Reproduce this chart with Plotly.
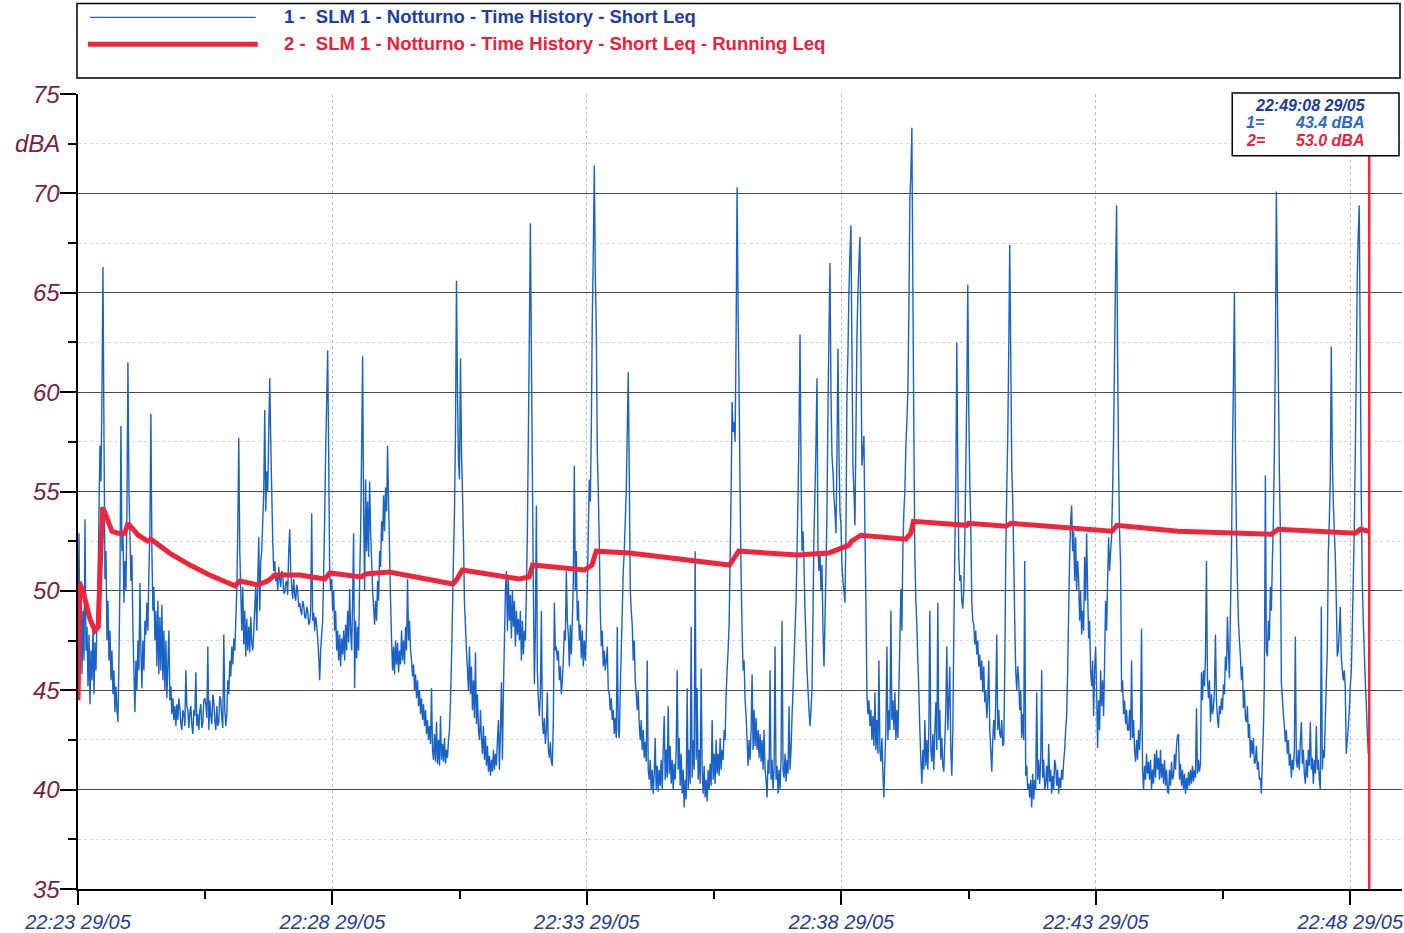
import pandas as pd
import plotly.graph_objects as go

# --- data -----------------------------------------------------------------
# Short Leq time history (dBA), one reading per logging interval from 22:23:00
start = pd.Timestamp("2000-05-29 22:23:00")
step_s = 1.1774
short_leq = [
    47.5, 52.9, 46.0, 50.5, 45.8, 49.0, 46.5, 53.6, 47.0, 48.2,
    45.2, 47.8, 44.3, 47.0, 45.5, 48.3, 44.8, 47.4, 46.0, 48.8,
    50.0, 54.0, 57.3, 55.5, 60.0, 66.3, 58.0, 50.6, 52.0, 47.5,
    49.5, 46.5, 48.0, 45.5, 47.0, 44.8, 46.0, 43.9, 45.2, 44.0,
    43.4, 46.5, 50.5, 58.3, 52.0, 53.0, 49.4, 51.5, 50.0, 54.0,
    61.5, 55.0, 52.9, 50.5, 51.8, 48.0, 46.0, 43.9, 46.5, 45.0,
    47.5, 46.0, 50.4, 47.0, 45.1, 47.5, 46.0, 48.5, 47.8, 49.4,
    48.0, 51.0, 53.0, 58.9, 52.0, 49.0, 50.2, 47.5, 49.0, 46.2,
    49.5, 45.8, 48.7, 46.0, 49.3, 45.5, 48.0, 45.0, 47.5, 44.6,
    46.3, 48.0, 44.5, 45.2, 43.8, 44.6, 43.5, 44.2, 43.2, 44.3,
    43.5, 44.6, 44.1, 43.3, 43.0, 44.0, 43.8, 43.2, 46.0, 44.2,
    44.0, 43.1, 43.9, 44.2, 43.2, 42.8, 44.0, 43.7, 45.9, 43.2,
    43.8, 43.0, 44.0, 44.3, 43.1, 43.4, 44.5, 44.6, 44.3, 43.6,
    47.2, 43.0, 44.5, 43.7, 43.3, 44.8, 44.4, 43.5, 43.0, 44.2,
    43.2, 43.4, 44.7, 44.5, 43.6, 43.1, 47.8, 44.0, 43.2, 43.8,
    45.5, 44.8, 46.5, 45.7, 47.2, 46.3, 47.6, 47.0, 48.5, 50.0,
    53.0, 57.7, 52.0, 50.0, 48.0, 50.2, 47.3, 49.0, 46.7, 48.6,
    47.0, 48.2, 46.9, 48.7, 47.4, 47.0, 47.9, 49.2, 50.2, 48.0,
    50.5, 52.7, 49.0, 51.5, 52.0, 53.5, 55.0, 59.1, 54.0, 56.0,
    55.0, 58.0, 60.7, 57.5, 55.0, 52.5, 51.0, 51.5, 50.5, 50.8,
    50.0, 51.2, 50.6, 50.2, 51.0, 50.8, 49.9, 49.9, 50.4, 50.5,
    49.8, 52.0, 53.1, 51.0, 50.2, 49.6, 50.6, 49.8, 49.5, 50.3,
    50.0, 49.2, 49.4, 49.0, 48.8, 49.5, 49.3, 48.7, 48.6, 49.2,
    49.0, 48.3, 48.4, 49.0, 53.9, 48.5, 48.9, 48.0, 48.7, 48.3,
    47.6, 46.8, 45.5, 47.0, 47.8, 48.5, 51.0, 53.5, 57.0, 59.5,
    62.1, 57.0, 51.0, 50.0, 50.6, 49.0, 50.0, 48.0, 49.0, 47.0,
    48.0, 46.5, 47.8, 46.2, 47.6, 46.8, 48.0, 46.5, 48.3, 47.0,
    49.0, 47.4, 50.1, 48.0, 47.0, 49.5, 52.9, 45.1, 48.5, 46.6,
    48.2, 47.0, 50.5, 53.0, 57.0, 61.8, 54.0, 50.0, 55.6, 52.0,
    54.5, 51.7, 55.5, 53.0, 51.5, 50.0, 49.2, 48.3, 49.5, 48.5,
    50.5, 49.5, 52.0, 51.2, 53.5, 52.5, 54.8, 53.0, 55.2, 54.0,
    57.3, 54.5, 52.0, 49.5, 47.5, 46.0, 47.2, 45.8, 47.5, 46.3,
    47.4, 45.9, 47.0, 46.3, 48.0, 46.5, 47.5, 46.3, 48.2, 47.0,
    50.6, 47.5, 48.5, 47.0, 46.5, 45.7, 46.3, 45.0, 45.8, 44.6,
    45.5, 44.2, 45.0, 43.8, 44.6, 43.5, 44.3, 43.2, 44.0, 42.8,
    43.5, 42.5, 43.2, 42.3, 45.1, 42.0, 41.5, 42.8, 41.4, 43.4,
    41.3, 42.5, 41.2, 43.7, 41.5, 42.3, 41.4, 42.6, 41.3, 42.0,
    41.6, 42.5, 43.0, 44.5, 46.5, 49.0, 51.7, 54.0, 58.0, 65.6,
    60.0, 56.5, 55.6, 61.7, 57.0, 55.0, 52.5, 49.4, 48.2, 47.0,
    46.0, 45.0, 47.2, 44.8, 46.2, 44.0, 45.5, 43.6, 46.9, 43.3,
    44.8, 43.0, 42.5, 44.0, 42.6, 41.8, 43.2, 41.5, 42.7, 41.2,
    42.2, 40.9, 41.7, 40.7, 41.5, 40.9, 42.0, 41.0, 41.8, 41.2,
    42.5, 43.5, 41.0, 43.0, 45.4, 41.5, 45.0, 47.5, 50.0, 51.0,
    48.0, 50.6, 48.5, 49.8, 47.6, 50.0, 48.2, 49.5, 47.2, 49.0,
    47.8, 48.6, 47.5, 49.0, 46.5, 48.5, 46.8, 48.0, 47.5, 50.0,
    53.0, 58.0, 63.0, 68.5, 62.0, 55.9, 50.0, 45.3, 48.0, 54.3,
    46.0, 44.5, 43.7, 44.8, 49.0, 43.5, 42.8, 43.6, 42.3, 43.0,
    44.9, 42.0, 41.6, 42.4, 41.4, 41.2, 43.5, 49.4, 47.0, 47.2,
    46.5, 47.0, 45.5, 46.2, 44.8, 45.5, 46.5, 48.0, 47.5, 51.0,
    48.5, 47.8, 46.2, 48.3, 46.8, 48.5, 50.5, 56.3, 50.0, 52.0,
    48.5, 49.5, 47.5, 48.3, 46.6, 48.0, 46.2, 47.5, 46.5, 47.8,
    50.0, 53.0, 55.6, 54.5, 58.0, 63.7, 67.0, 71.4, 66.0, 63.2,
    57.0, 55.0, 52.4, 49.0, 47.2, 48.0, 46.2, 47.0, 46.0, 46.5,
    47.2, 45.0, 44.8, 44.0, 44.6, 43.5, 44.0, 42.8, 43.6, 42.6,
    48.2, 43.0, 42.6, 45.0, 47.0, 49.0, 51.0, 52.0, 53.5, 55.0,
    58.0, 61.0, 56.0, 50.1, 49.0, 48.3, 46.5, 47.5, 45.5, 44.8,
    44.0, 45.0, 43.3, 42.5, 43.5, 42.0, 43.0, 41.6, 42.4, 41.4,
    46.5, 41.0, 40.5, 41.5, 40.0, 41.0, 39.8, 40.8, 42.6, 40.0,
    41.2, 39.9, 41.0, 40.2, 41.5, 40.0, 42.0, 43.7, 40.5, 42.0,
    40.6, 44.2, 40.8, 42.2, 40.3, 41.5, 40.0, 41.3, 40.5, 42.0,
    46.0, 41.0, 42.6, 40.2, 41.8, 39.8, 41.0, 39.1, 40.5, 39.5,
    45.1, 40.0, 42.0, 40.3, 48.2, 40.6, 42.5, 41.0, 52.0, 41.5,
    45.1, 40.5, 42.0, 40.3, 46.1, 41.0, 39.8, 41.2, 39.6, 40.5,
    39.4, 41.0, 40.0, 41.3, 40.2, 43.5, 40.5, 41.8, 40.3, 42.5,
    40.8, 41.8, 40.7, 42.6, 41.0, 42.0, 41.5, 43.0, 42.5, 44.8,
    46.0, 47.0, 48.3, 51.5, 55.0, 59.5, 58.0, 58.5, 57.5, 63.0,
    70.3, 64.0, 60.0, 55.0, 50.8, 48.0, 46.0, 46.5, 44.5, 43.7,
    42.5, 41.2, 42.5, 41.5, 43.0, 45.8, 42.0, 44.0, 42.2, 43.6,
    42.0, 43.0, 41.6, 42.8, 41.4, 42.5, 41.0, 43.0, 41.0, 40.5,
    39.6, 41.5, 40.8, 46.0, 40.5, 41.5, 40.0, 41.0, 47.2, 40.5,
    41.2, 39.8, 41.0, 40.0, 41.5, 48.5, 41.0, 40.6, 41.8, 40.4,
    41.5, 40.8, 44.2, 41.0, 42.0, 43.7, 45.0, 46.5, 48.0, 49.4,
    52.0, 54.7, 58.0, 62.9, 56.0, 52.0, 53.0, 51.3, 49.0, 47.5,
    46.0, 45.0, 44.0, 43.2, 44.0, 45.1, 49.0, 52.9, 55.0, 57.5,
    60.7, 52.0, 51.0, 52.0, 50.0, 51.3, 48.0, 46.2, 48.5, 51.0,
    54.0, 59.1, 63.0, 66.5, 60.0, 56.8, 56.0, 54.7, 54.0, 52.9,
    57.0, 62.2, 57.0, 54.0, 53.3, 51.3, 50.5, 50.0, 49.4, 53.0,
    59.8, 62.0, 65.1, 67.0, 68.4, 62.0, 56.3, 55.0, 53.3, 58.0,
    62.8, 65.0, 66.5, 67.8, 62.0, 56.3, 57.0, 57.8, 53.0, 49.4,
    44.8, 43.8, 44.5, 43.2, 44.0, 42.5, 43.7, 42.2, 44.9, 42.0,
    43.5, 41.8, 46.5, 42.0, 41.4, 42.6, 40.8, 39.6, 41.5, 43.0,
    47.2, 42.5, 44.0, 43.0, 49.0, 43.5, 44.5, 43.0, 44.9, 42.5,
    44.0, 42.6, 45.0, 47.5, 50.1, 48.0, 52.2, 54.0, 55.0, 57.3,
    58.5, 60.0, 64.0, 69.7, 71.0, 73.3, 65.4, 58.0, 51.7, 49.5,
    48.3, 46.5, 44.9, 43.0, 41.5, 40.3, 42.0, 41.0, 43.5, 41.2,
    42.5, 41.0, 43.0, 49.0, 42.0, 41.4, 42.8, 41.0, 43.0, 44.4,
    42.0, 49.4, 42.5, 44.0, 41.5, 42.6, 41.2, 40.9, 42.5, 44.0,
    47.2, 43.0, 44.5, 46.2, 42.0, 40.7, 43.0, 47.8, 52.0, 55.2,
    62.5, 56.0, 51.7, 50.5, 50.8, 49.5, 49.1, 50.0, 52.5, 56.1,
    60.0, 65.4, 59.0, 55.5, 53.3, 49.5, 48.5, 48.3, 47.3, 48.0,
    46.8, 47.5, 46.2, 46.8, 45.5, 46.5, 44.9, 46.2, 44.4, 45.0,
    43.6, 44.5, 46.5, 43.0, 42.0, 40.9, 42.5, 43.5, 42.5, 44.4,
    47.8, 43.0, 44.0, 42.8, 42.6, 43.5, 42.2, 42.3, 46.0, 51.7,
    55.0, 57.7, 62.0, 67.4, 62.0, 56.3, 54.5, 51.7, 48.5, 46.0,
    45.0, 46.2, 45.5, 44.0, 45.0, 42.6, 43.8, 42.5, 51.5, 40.7,
    41.2, 40.0, 40.3, 39.6, 40.5, 39.1, 40.8, 39.5, 40.5, 40.0,
    44.9, 40.5, 41.5, 40.3, 41.4, 46.0, 40.6, 41.5, 40.0, 40.3,
    41.2, 40.0, 42.3, 40.4, 41.0, 39.8, 40.7, 40.0, 41.5, 41.2,
    40.2, 41.0, 39.8, 40.6, 40.1, 41.0, 40.5, 41.4, 42.0, 43.0,
    43.7, 46.0, 49.0, 51.7, 53.5, 54.3, 52.0, 53.0, 50.5, 52.7,
    50.0, 51.5, 50.6, 48.5, 50.0, 47.8, 49.0, 48.0, 51.7, 49.5,
    52.9, 50.0, 47.6, 48.5, 46.0, 45.2, 46.5, 43.7, 46.0, 47.2,
    45.0, 42.1, 44.5, 43.0, 46.0, 44.2, 45.5, 43.7, 46.5, 49.5,
    48.0, 50.5, 52.7, 51.0, 52.0, 52.7, 55.0, 57.7, 62.0, 66.0,
    69.4, 62.0, 56.3, 53.0, 51.3, 44.9, 45.5, 43.8, 44.5, 43.3,
    44.0, 43.0, 43.0, 44.0, 42.5, 46.5, 42.6, 43.5, 42.0, 41.4,
    42.5, 41.5, 43.0, 42.0, 43.3, 48.1, 41.0, 40.0, 41.2, 40.5,
    41.8, 40.8, 41.4, 40.5, 41.5, 40.0, 41.0, 40.3, 41.8, 40.6,
    42.0, 41.0, 41.6, 40.5, 42.0, 40.6, 41.3, 40.3, 41.5, 40.2,
    41.0, 39.9, 39.8, 41.0, 40.2, 41.4, 40.5, 40.7, 41.8, 41.0,
    42.2, 42.7, 42.8, 40.5, 41.3, 40.2, 41.0, 40.0, 40.8, 39.8,
    40.6, 40.0, 40.9, 40.2, 41.0, 40.3, 41.2, 40.4, 41.0, 40.6,
    44.1, 40.8, 41.5, 40.9, 41.3, 45.9, 44.5, 46.0, 45.2, 46.7,
    51.5, 45.5, 44.6, 45.5, 43.4, 44.8, 43.8, 44.1, 45.0, 47.8,
    44.5, 43.6, 43.1, 44.2, 43.8, 44.6, 44.0, 45.3, 44.8, 46.7,
    46.0, 48.7, 47.0, 45.6, 49.0, 51.8, 56.8, 60.5, 65.0, 57.4,
    53.0, 50.5, 48.5, 47.5, 46.7, 45.5, 46.2, 44.1, 45.0, 43.6,
    43.4, 44.2, 42.6, 43.3, 41.6, 42.5, 41.8, 42.6, 41.3, 41.4,
    42.2, 41.0, 41.4, 40.5, 40.6, 39.8, 41.5, 43.0, 45.4, 55.8,
    47.0, 46.7, 48.5, 47.5, 50.2, 49.0, 51.5, 53.5, 57.0, 61.9,
    70.1, 65.0, 60.7, 56.0, 53.0, 45.4, 44.6, 43.8, 43.2, 42.4,
    43.0, 41.8, 42.5, 41.2, 41.8, 40.6, 41.5, 41.0, 42.0, 47.7,
    41.5, 41.1, 42.0, 41.0, 42.5, 43.4, 41.3, 42.0, 40.8, 40.3,
    41.5, 40.6, 42.0, 41.2, 43.4, 41.0, 41.6, 40.3, 41.5, 40.8,
    43.2, 41.0, 41.5, 40.5, 40.0, 49.2, 41.0, 42.0, 41.6, 43.5,
    45.4, 47.0, 51.8, 53.5, 55.6, 62.3, 56.8, 54.5, 53.0, 51.8,
    49.5, 46.7, 47.0, 48.0, 49.2, 46.7, 46.0, 45.5, 46.0, 45.1,
    41.8, 42.5, 43.1, 44.0, 45.2, 45.9, 48.0, 50.5, 53.0, 56.8,
    61.0, 65.8, 68.0, 69.4, 62.0, 55.0, 50.5, 48.5, 47.0, 45.5,
    44.4, 43.0, 41.8, 43.4,
]

# Running Leq (dBA), read at its break points (seconds after start)
running_s = [0, 1, 2, 7, 14, 20, 24, 26, 29, 33,
             40, 47, 55, 59, 71, 82, 86, 108, 132, 155,
             185, 191, 212, 224, 232, 261, 291, 297, 334, 339,
             367, 442, 447, 453, 520, 532, 536, 597, 606, 611,
             650, 768, 776, 779, 848, 868, 885, 897, 909, 912,
             923, 976, 982, 985, 1038, 1048, 1050, 1094, 1100, 1219,
             1225, 1297, 1407, 1415, 1506, 1512, 1522]
running_leq = [44.5, 49.0, 50.4, 49.8, 48.6, 48.0, 48.2, 51.0, 54.2, 53.8,
               53.0, 52.9, 52.9, 53.4, 52.8, 52.5, 52.6, 51.9, 51.3, 50.8,
               50.25, 50.5, 50.3, 50.5, 50.8, 50.8, 50.6, 50.9, 50.7, 50.85,
               50.95, 50.35, 50.6, 51.05, 50.6, 50.7, 51.3, 51.05, 51.3, 52.0,
               51.9, 51.3, 51.9, 52.0, 51.8, 51.85, 51.9, 52.1, 52.3, 52.5,
               52.8, 52.6, 52.9, 53.5, 53.3, 53.3, 53.4, 53.25, 53.4, 53.0,
               53.3, 53.0, 52.85, 53.1, 52.9, 53.1, 53.0]

legend_names = ["1 -\u00a0 SLM 1 - Notturno - Time History - Short Leq",
                "2 -\u00a0 SLM 1 - Notturno - Time History - Short Leq - Running Leq"]
cursor_label = "22:49:08 29/05"
cursor_vals = ["43.4 dBA", "53.0 dBA"]
y_ticks = [35, 40, 45, 50, 55, 60, 65, 70, 75]
axis_end_s = 1561

# --- styling ----------------------------------------------------------------
BLUE = "#1b62c8"
RED = "#f0243a"
MAROON = "#7a1f45"
NAVY = "#1f3c98"
FONT = "Liberation Sans, Arial, sans-serif"

W, H = 1404, 933
L, R, T, B = 78, 0, 94, 40
PW, PH = W - L - R, H - T - B


def px(x):
    return (x - L) / PW


def py(y):
    return (H - B - y) / PH


t_short = start + pd.to_timedelta([i * step_s for i in range(len(short_leq))], unit="s")
t_run = start + pd.to_timedelta(running_s, unit="s")

fig = go.Figure()
fig.add_trace(go.Scatter(x=t_short, y=short_leq, mode="lines",
                         line=dict(color=BLUE, width=1.4, simplify=False),
                         hoverinfo="skip", showlegend=False))
fig.add_trace(go.Scatter(x=t_run, y=running_leq, mode="lines",
                         line=dict(color=RED, width=5),
                         hoverinfo="skip", showlegend=False))

shapes = []
annots = []

# legend box
shapes.append(dict(type="rect", xref="paper", yref="paper", x0=px(77), x1=px(1402),
                   y0=py(78), y1=py(3), line=dict(color="black", width=1.5),
                   fillcolor="white", layer="above"))
shapes.append(dict(type="line", xref="paper", yref="paper", x0=px(90), x1=px(256),
                   y0=py(17), y1=py(17), line=dict(color=BLUE, width=1.2)))
shapes.append(dict(type="line", xref="paper", yref="paper", x0=px(88), x1=px(258),
                   y0=py(44), y1=py(44), line=dict(color=RED, width=5)))
for name, col, yy in [(legend_names[0], "#1a3fa6", 16), (legend_names[1], "#ee2038", 43)]:
    annots.append(dict(text=name, xref="paper", yref="paper", x=px(282), y=py(yy),
                       xanchor="left", yanchor="middle", showarrow=False,
                       font=dict(family=FONT, size=18.5, color=col, weight="bold")))

# cursor
shapes.append(dict(type="line", xref="x", yref="paper", x0=t_short[-1], x1=t_short[-1],
                   y0=0, y1=py(156), line=dict(color=RED, width=2.5), layer="above"))
shapes.append(dict(type="rect", xref="paper", yref="paper", x0=px(1234), x1=px(1401),
                   y0=py(156), y1=py(93), line=dict(color="black", width=1.5),
                   fillcolor="white", layer="above"))
cf = dict(family=FONT, size=16, weight="bold", style="italic")
annots.append(dict(text=cursor_label, xref="paper", yref="paper", x=px(1312), y=py(106),
                   xanchor="center", yanchor="middle", showarrow=False,
                   font=dict(cf, color="#1a3a9a")))
for i, (col, yy) in enumerate([("#2a66cc", 123), ("#ee2038", 141)]):
    annots.append(dict(text=f"{i + 1}=", xref="paper", yref="paper", x=px(1246), y=py(yy),
                       xanchor="left", yanchor="middle", showarrow=False,
                       font=dict(cf, color=col)))
    annots.append(dict(text=cursor_vals[i], xref="paper", yref="paper", x=px(1368), y=py(yy),
                       xanchor="right", yanchor="middle", showarrow=False,
                       font=dict(cf, color=col)))

# y tick labels and unit, placed just left of the ticks
yf = dict(family=FONT, size=24, color=MAROON, style="italic")
for v in y_ticks:
    annots.append(dict(text=str(v), xref="paper", yref="y", x=px(62), y=v,
                       xanchor="right", yanchor="middle", showarrow=False, font=yf))
annots.append(dict(text="dBA", xref="paper", yref="y", x=px(62), y=72.5,
                   xanchor="right", yanchor="middle", showarrow=False, font=yf))

fig.update_layout(
    width=W, height=H, margin=dict(l=L, r=R, t=T, b=B),
    paper_bgcolor="white", plot_bgcolor="white",
    shapes=shapes, annotations=annots, showlegend=False,
    xaxis=dict(type="date", range=[start, start + pd.Timedelta(seconds=axis_end_s)],
               tick0=start, dtick=300000, tickformat="%H:%M %d/%m",
               ticks="outside", ticklen=14, tickwidth=1.5, tickcolor="black",
               showline=True, linecolor="black", linewidth=2,
               showgrid=True, gridcolor="#bdbdbd", griddash="dot", gridwidth=1,
               zeroline=False, ticklabeloverflow="allow",
               tickfont=dict(family=FONT, size=20, color=NAVY, style="italic"),
               minor=dict(tick0=start, dtick=150000, ticks="outside", ticklen=8,
                          tickcolor="black", tickwidth=1.5, showgrid=False)),
    yaxis=dict(range=[35, 75], tickvals=y_ticks, showticklabels=False,
               ticks="outside", ticklen=16, tickwidth=1.5, tickcolor="black",
               showline=True, linecolor="black", linewidth=2,
               showgrid=True, gridcolor="#4a4a4a", gridwidth=1, zeroline=False,
               minor=dict(tick0=35, dtick=2.5, ticks="outside", ticklen=8,
                          tickcolor="black", tickwidth=1.5, showgrid=True,
                          gridcolor="#d5d5d5", griddash="dot", gridwidth=1)),
)

fig.write_html("out.html", config={"displayModeBar": False},
               post_script="document.body.style.margin='0';document.body.style.overflow='hidden';")
